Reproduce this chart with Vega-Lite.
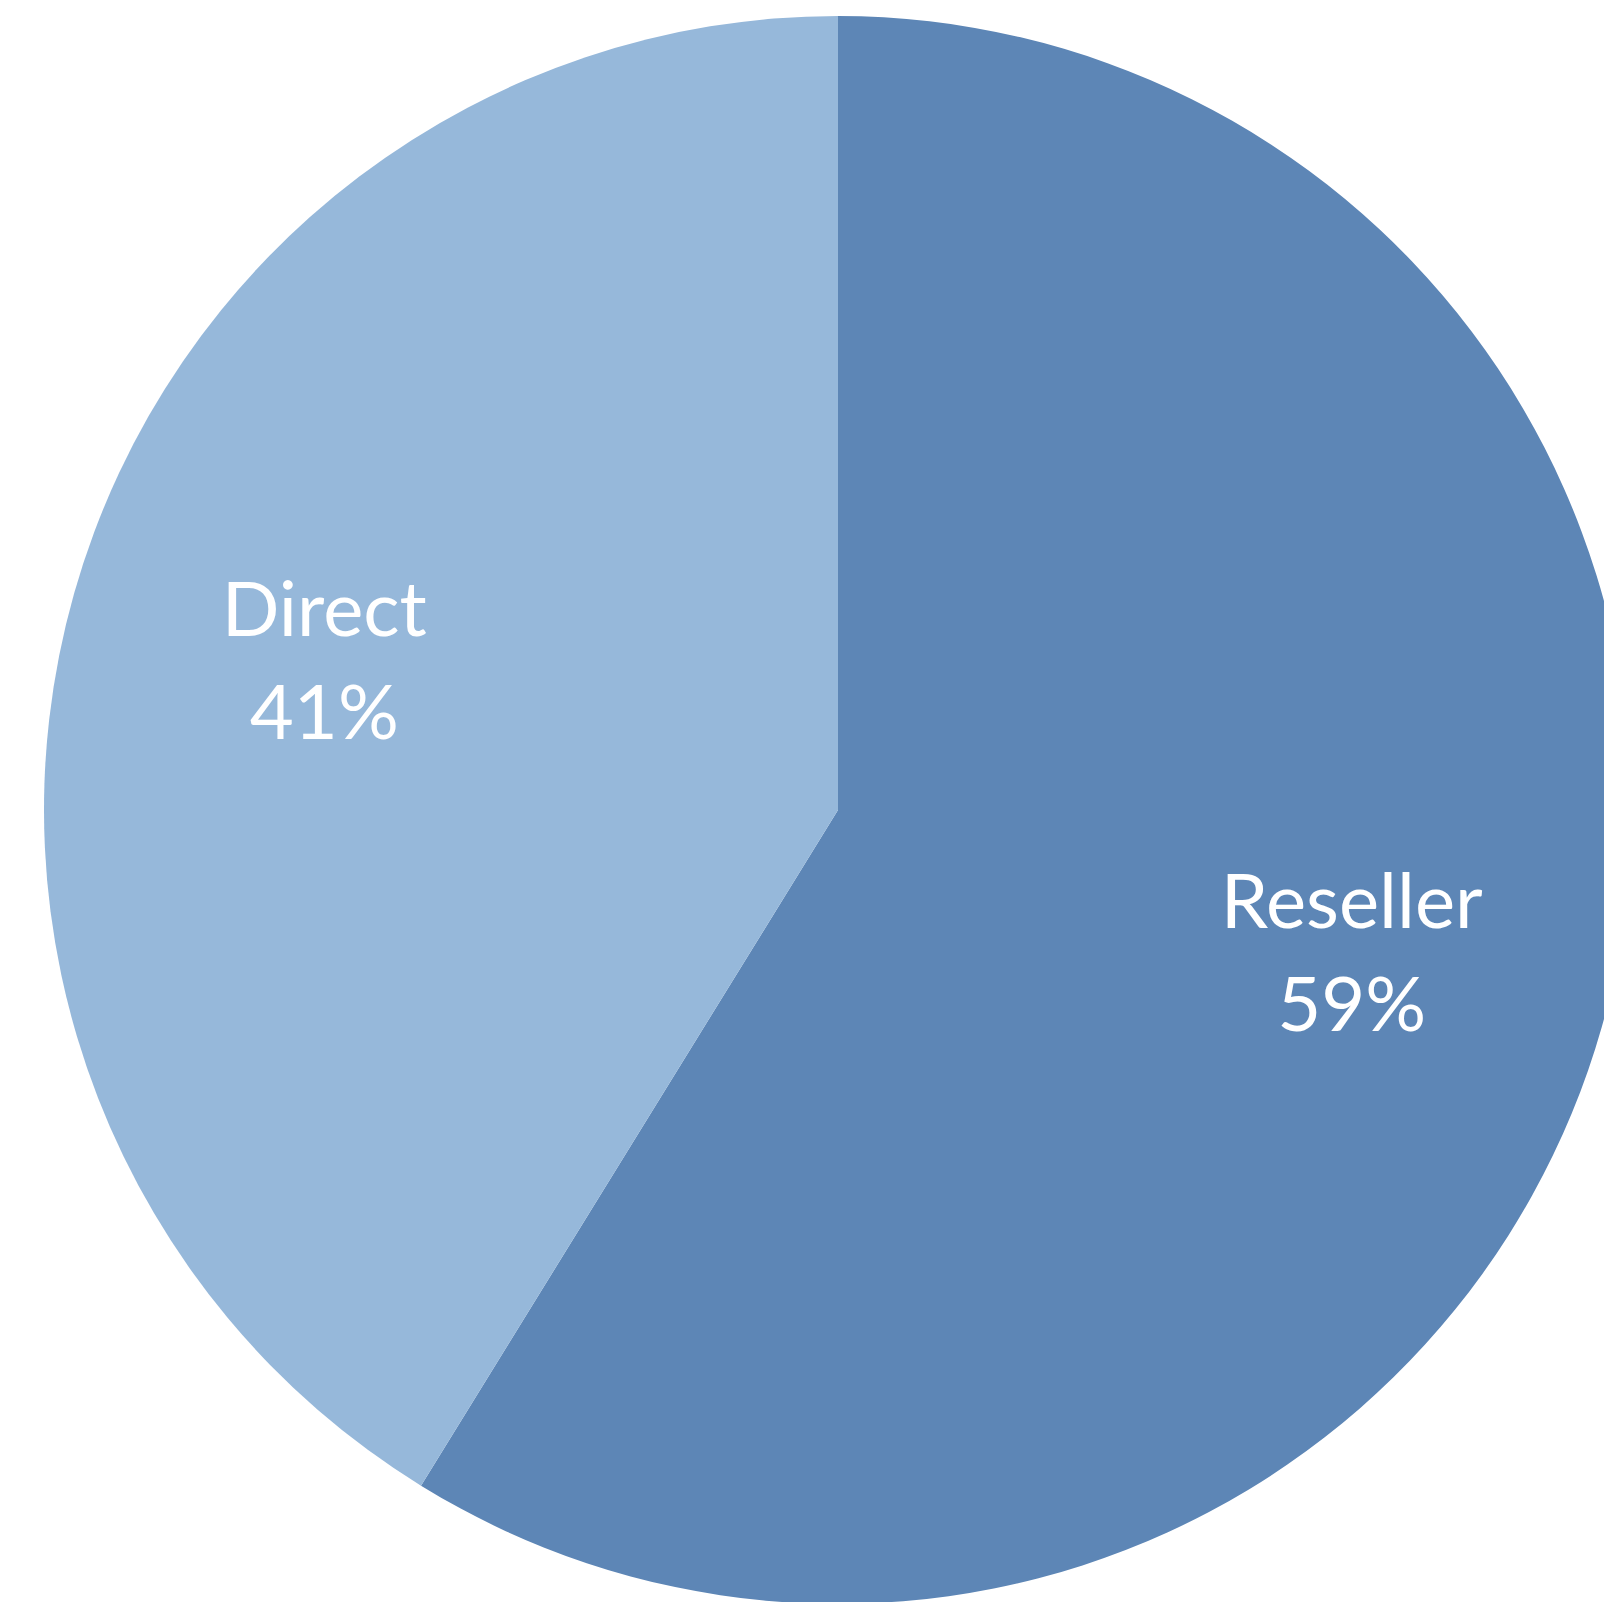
{
  "$schema": "https://vega.github.io/schema/vega-lite/v6.json",
  "width": 1676,
  "height": 1620,
  "autosize": {"type": "none"},
  "padding": 0,
  "background": "white",
  "config": {"view": {"stroke": null}},
  "data": {
    "values": [
      {"channel": "Reseller", "share": 58.8, "label": "Reseller\n59%"},
      {"channel": "Direct", "share": 41.2, "label": "Direct\n41%"}
    ]
  },
  "encoding": {
    "theta": {"field": "share", "type": "quantitative", "stack": true},
    "order": {"field": "share", "type": "quantitative", "sort": "descending"}
  },
  "layer": [
    {
      "mark": {"type": "arc", "outerRadius": 794},
      "encoding": {
        "color": {
          "field": "channel",
          "type": "nominal",
          "scale": {"domain": ["Reseller", "Direct"], "range": ["#5d86b6", "#96b8da"]},
          "legend": null
        }
      }
    },
    {
      "mark": {
        "type": "text",
        "radius": 534,
        "dy": -51,
        "fontSize": 76,
        "font": "Lato",
        "fontWeight": 400,
        "color": "white",
        "align": "center",
        "baseline": "middle",
        "lineBreak": "\n",
        "lineHeight": 103
      },
      "encoding": {
        "text": {"field": "label", "type": "nominal"}
      }
    }
  ]
}
